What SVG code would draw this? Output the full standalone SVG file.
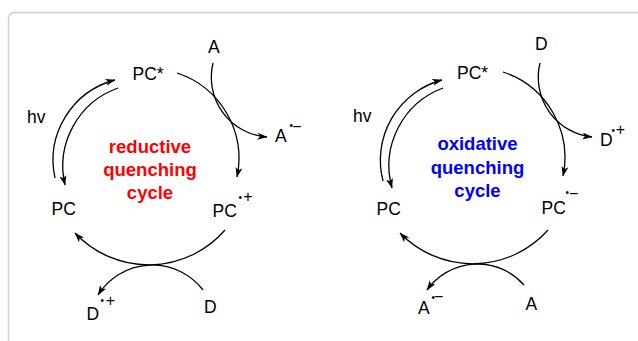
<svg xmlns="http://www.w3.org/2000/svg" width="638" height="341" viewBox="0 0 638 341">
<defs>
<style>
.lbl{font-family:"Liberation Sans",Arial,sans-serif;font-size:17.5px;fill:#000}
.sup{font-family:"Liberation Sans",Arial,sans-serif;font-size:16px;fill:#000}
.dot{font-family:"Liberation Sans",Arial,sans-serif;font-size:10px;fill:#000}
.red{font-family:"Liberation Sans",Arial,sans-serif;font-size:18.5px;font-weight:bold;fill:#ff0000;text-anchor:middle}
.blue{font-family:"Liberation Sans",Arial,sans-serif;font-size:18.5px;font-weight:bold;fill:#0000ff;text-anchor:middle}
.arc{fill:none;stroke:#000;stroke-width:1.3;marker-end:url(#ah)}
</style>
<marker id="ah" viewBox="0 0 10 7" refX="9.5" refY="3.5" markerWidth="10" markerHeight="7" markerUnits="userSpaceOnUse" orient="auto">
<path d="M0,0 L10,3.5 L0,7 L2.5,3.5 Z" fill="#000"/>
</marker>
</defs>
<rect x="0" y="0" width="638" height="341" fill="#fff"/>
<rect x="8.5" y="12.5" width="700" height="400" rx="6" fill="#fff" stroke="#cfcfcf" stroke-width="1.5"/>

<g id="connectors">
<path class="arc" d="M177,73 A90,90 0 0 1 237,177"/>
<path class="arc" d="M213,63 A60,60 0 0 0 267,137"/>
<path class="arc" d="M55,178 A83,83 0 0 1 115,80"/>
<path class="arc" d="M118,88 A83,83 0 0 0 65,185"/>
<path class="arc" d="M225,230 A101,101 0 0 1 75,233"/>
<path class="arc" d="M203,290 A64,64 0 0 0 98,295"/>

<path class="arc" d="M503,72 A90,90 0 0 1 563,176"/>
<path class="arc" d="M540,63 A60,60 0 0 0 592,137"/>
<path class="arc" d="M383,181 A83,83 0 0 1 442,80"/>
<path class="arc" d="M443,88 A83,83 0 0 0 392,188"/>
<path class="arc" d="M548,230 A101,101 0 0 1 400,233"/>
<path class="arc" d="M524,285 A62,62 0 0 0 427,290"/>
</g>

<g id="left-cycle">
<g id="l-pcstar"><text class="lbl" x="132.5" y="80">PC*</text></g>
<g id="l-A-top"><text class="lbl" x="208" y="53">A</text></g>
<g id="l-Aminus"><text class="lbl" x="275" y="141.5">A</text><text class="dot" x="289.5" y="128.5">•</text><text class="sup" x="292.3" y="132">−</text></g>
<g id="l-pcplus"><text class="lbl" x="212.5" y="216.5">PC</text><text class="dot" x="238.5" y="200.5">•</text><text class="sup" x="243.2" y="202.3">+</text></g>
<g id="l-pc"><text class="lbl" x="51.5" y="215">PC</text></g>
<g id="l-hv"><text class="lbl" x="27" y="123">hv</text></g>
<g id="l-Dplus"><text class="lbl" x="86.5" y="320">D</text><text class="dot" x="100.5" y="304">•</text><text class="sup" x="105.7" y="306">+</text></g>
<g id="l-D"><text class="lbl" x="204" y="313">D</text></g>
<g id="l-title"><text class="red" x="150" y="152.5">reductive</text><text class="red" x="150" y="175.5">quenching</text><text class="red" x="150" y="198.5">cycle</text></g>
</g>

<g id="right-cycle">
<g id="r-pcstar"><text class="lbl" x="457" y="79">PC*</text></g>
<g id="r-D-top"><text class="lbl" x="535" y="50">D</text></g>
<g id="r-Dplus"><text class="lbl" x="600" y="146">D</text><text class="dot" x="611.5" y="133.5">•</text><text class="sup" x="615.7" y="134.6">+</text></g>
<g id="r-pcminus"><text class="lbl" x="541.5" y="213.5">PC</text><text class="dot" x="565.5" y="196">•</text><text class="sup" x="569" y="199.3">−</text></g>
<g id="r-pc"><text class="lbl" x="376.5" y="214.5">PC</text></g>
<g id="r-hv"><text class="lbl" x="353" y="122">hv</text></g>
<g id="r-Aminus"><text class="lbl" x="418" y="313.5">A</text><text class="dot" x="431.5" y="301">•</text><text class="sup" x="434" y="302.3">−</text></g>
<g id="r-A"><text class="lbl" x="525.5" y="309.5">A</text></g>
<g id="r-title"><text class="blue" x="477.5" y="150">oxidative</text><text class="blue" x="477.5" y="173.5">quenching</text><text class="blue" x="477.5" y="196.5">cycle</text></g>
</g>
</svg>
